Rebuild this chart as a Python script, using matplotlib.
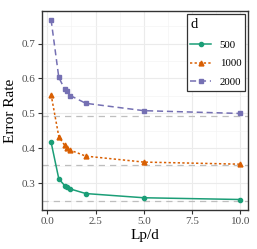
import matplotlib
matplotlib.use("Agg")
import matplotlib.pyplot as plt
from matplotlib.ticker import MultipleLocator

lp_d = [0.2, 0.6, 0.9, 1.0, 1.2, 2.0, 5.0, 10.0]
err_500 = [0.418, 0.313, 0.294, 0.289, 0.284, 0.271, 0.259, 0.254]
err_1000 = [0.554, 0.434, 0.409, 0.402, 0.395, 0.378, 0.361, 0.355]
err_2000 = [0.768, 0.603, 0.570, 0.563, 0.551, 0.529, 0.508, 0.500]
limits = [0.249, 0.352, 0.493]
labels = ["500", "1000", "2000"]

plt.rcParams['font.family'] = ['Liberation Serif', 'DejaVu Serif']

fig = plt.figure(figsize=(2.57, 2.49), dpi=100)
ax = fig.add_axes([42/257, 1-210/249, (248-42)/257, (210-11)/249])

for y in limits:
    ax.axhline(y, color='#BEBEBE', lw=0.9, ls=(0, (5, 4)), zorder=1)

ax.plot(lp_d, err_500, color='#1B9E77', ls='-', marker='o', ms=3, lw=1.1, label=labels[0], zorder=3)
ax.plot(lp_d, err_1000, color='#D95F02', ls=(0, (1.5, 1.5)), marker='^', ms=3.5, lw=1.1, label=labels[1], zorder=3)
ax.plot(lp_d, err_2000, color='#7570B3', ls=(0, (4, 2.5)), marker='s', ms=3, lw=1.1, label=labels[2], zorder=3)

ax.set_xlim(-0.27, 10.39)
ax.set_ylim(0.224, 0.793)
ax.xaxis.set_minor_locator(MultipleLocator(1.25))
ax.yaxis.set_minor_locator(MultipleLocator(0.05))
ax.set_xticks([0, 2.5, 5, 7.5, 10])
ax.set_xticklabels(["0.0", "2.5", "5.0", "7.5", "10.0"])
ax.set_yticks([0.3, 0.4, 0.5, 0.6, 0.7])
ax.set_yticklabels(["0.3", "0.4", "0.5", "0.6", "0.7"])

ax.grid(which='major', color='#EBEBEB', lw=0.8)
ax.grid(which='minor', color='#F4F4F4', lw=0.5)
ax.set_axisbelow(True)
for s in ax.spines.values():
    s.set_color('#333333')
    s.set_linewidth(1.0)
ax.tick_params(which='major', length=3, width=0.8, color='#333333', labelsize=8, labelcolor='#4D4D4D', pad=2)
ax.tick_params(which='minor', length=0)

ax.set_xlabel("Lp/d", fontsize=11, labelpad=2)
ax.set_ylabel("Error Rate", fontsize=11, labelpad=3)

leg = ax.legend(title="d", loc='upper right', bbox_to_anchor=(1-3/206, 1-3/199),
                borderaxespad=0, fontsize=7.8, title_fontsize=10.5, frameon=True, fancybox=False,
                edgecolor='#333333', framealpha=1, handlelength=1.9, labelspacing=0.85,
                borderpad=0.35, handletextpad=0.8, alignment='left')
leg.get_frame().set_linewidth(0.9)

fig.savefig("out.png", dpi=100)
